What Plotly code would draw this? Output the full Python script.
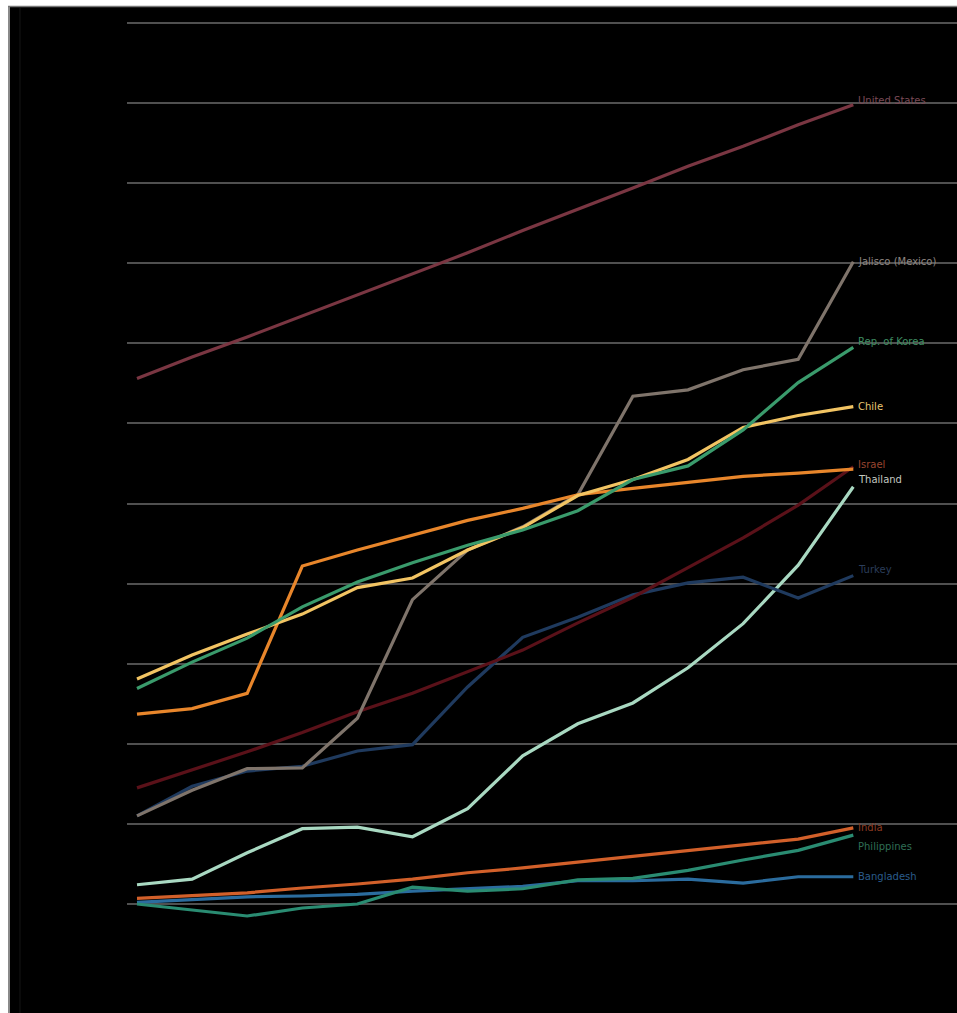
import plotly.graph_objects as go

years = list(range(1995, 2009))

united_states = [65.6, 68.3, 70.8, 73.4, 76.0, 78.7, 81.3, 84.1, 86.7, 89.4, 92.1, 94.6, 97.3, 99.8]
jalisco = [11.0, 14.2, 16.9, 17.0, 23.2, 38.0, 44.2, 47.1, 51.1, 63.4, 64.2, 66.7, 68.0, 80.2]
korea = [26.9, 30.2, 33.2, 37.1, 40.2, 42.6, 44.8, 46.7, 49.1, 53.0, 54.7, 59.2, 65.1, 69.5]
chile = [28.1, 31.1, 33.7, 36.2, 39.5, 40.7, 44.2, 47.0, 51.0, 53.0, 55.5, 59.5, 61.0, 62.1]
israel = [23.7, 24.4, 26.3, 42.2, 44.2, 46.1, 47.9, 49.4, 51.1, 51.9, 52.7, 53.4, 53.8, 54.3]
unlabelled = [14.5, 16.7, 19.0, 21.4, 24.0, 26.3, 29.0, 31.7, 35.1, 38.3, 42.0, 45.7, 49.8, 54.6]
thailand = [2.4, 3.1, 6.4, 9.4, 9.6, 8.4, 11.9, 18.5, 22.5, 25.1, 29.5, 35.0, 42.3, 52.1]
turkey = [11.0, 14.7, 16.6, 17.2, 19.1, 19.9, 27.1, 33.3, 35.8, 38.6, 40.1, 40.8, 38.2, 41.0]
india = [0.7, 1.0, 1.4, 2.0, 2.5, 3.1, 3.9, 4.5, 5.2, 5.9, 6.6, 7.4, 8.1, 9.5]
philippines = [0.0, -0.7, -1.5, -0.5, 0.0, 2.1, 1.6, 1.9, 3.0, 3.2, 4.2, 5.5, 6.7, 8.6]
bangladesh = [0.2, 0.5, 0.9, 1.0, 1.2, 1.6, 1.9, 2.2, 2.9, 2.9, 3.1, 2.6, 3.4, 3.4]

grid_values = list(range(0, 111, 10))

# name, values, line colour, label text, label colour, label shift (px)
series = [
    ("Bangladesh", bangladesh, "#2b6c9e", "Bangladesh", "#2a5c8c", 0),
    ("Philippines", philippines, "#2a8c72", "Philippines", "#2f6e55", -11),
    ("India", india, "#d2602a", "India", "#8c3b22", 0),
    ("Thailand", thailand, "#a9d9c2", "Thailand", "#c4c8c0", 7),
    ("Turkey", turkey, "#1f3a5e", "Turkey", "#2b3d5a", 6),
    ("Other", unlabelled, "#5a1119", None, None, 0),
    ("Jalisco (Mexico)", jalisco, "#7f746b", "Jalisco (Mexico)", "#8c8580", 0),
    ("Israel", israel, "#e8862b", "Israel", "#9a4630", 5),
    ("Chile", chile, "#f2c463", "Chile", "#e8c673", 0),
    ("Rep. of Korea", korea, "#3a9b6c", "Rep. of Korea", "#3e8e62", 6),
    ("United States", united_states, "#7a3642", "United States", "#7a4a56", 4),
]

fig = go.Figure()
for name, vals, col, lab, labcol, shift in series:
    fig.add_trace(go.Scatter(x=years, y=vals, mode="lines", name=name,
                             line=dict(color=col, width=3.2), showlegend=False,
                             hoverinfo="skip"))
    if lab:
        fig.add_annotation(x=years[-1], y=vals[-1], text=lab, xanchor="left",
                           yanchor="middle", xshift=3, yshift=shift, showarrow=False,
                           font=dict(family="DejaVu Sans", size=10, color=labcol))

x_step_px = 55.1
xmin = years[0] - 10 / x_step_px
xmax = years[0] + (957 - 137) / x_step_px
px_per_unit = 8.009
ymax = grid_values[-1] + (23 - 7) / px_per_unit
ymin = grid_values[0] - (1013 - 904) / px_per_unit

fig.update_layout(
    width=957, height=1013,
    margin=dict(l=127, r=0, t=7, b=0),
    paper_bgcolor="black", plot_bgcolor="black",
    xaxis=dict(range=[xmin, xmax], showgrid=False, zeroline=False,
               showticklabels=False, ticks=""),
    yaxis=dict(range=[ymin, ymax], tickvals=grid_values, showgrid=True,
               gridcolor="#505050", gridwidth=1.5, zeroline=False,
               showticklabels=False, ticks=""),
)

W = 830.0
H = 1006.0
def px_x(p):
    return (p - 127) / W
def px_y(p):
    return (1013 - p) / H

shapes = [
    dict(type="rect", xref="paper", yref="paper", x0=px_x(0), x1=px_x(8),
         y0=px_y(1013), y1=px_y(0), fillcolor="white", line=dict(width=0), layer="above"),
    dict(type="rect", xref="paper", yref="paper", x0=px_x(0), x1=px_x(957),
         y0=px_y(6), y1=px_y(0), fillcolor="white", line=dict(width=0), layer="above"),
    dict(type="line", xref="paper", yref="paper", x0=px_x(9), x1=px_x(9),
         y0=px_y(1013), y1=px_y(6), line=dict(color="#8a8a8a", width=2), layer="above"),
    dict(type="line", xref="paper", yref="paper", x0=px_x(8), x1=px_x(957),
         y0=px_y(6.5), y1=px_y(6.5), line=dict(color="#777777", width=1.5), layer="above"),
    dict(type="line", xref="paper", yref="paper", x0=px_x(20), x1=px_x(20),
         y0=px_y(1013), y1=px_y(8), line=dict(color="#141414", width=1), layer="above"),
]
fig.update_layout(shapes=shapes)

fig.write_html("out.html", config={"displayModeBar": False},
               post_script="document.body.style.margin='0';document.body.style.overflow='hidden';")
